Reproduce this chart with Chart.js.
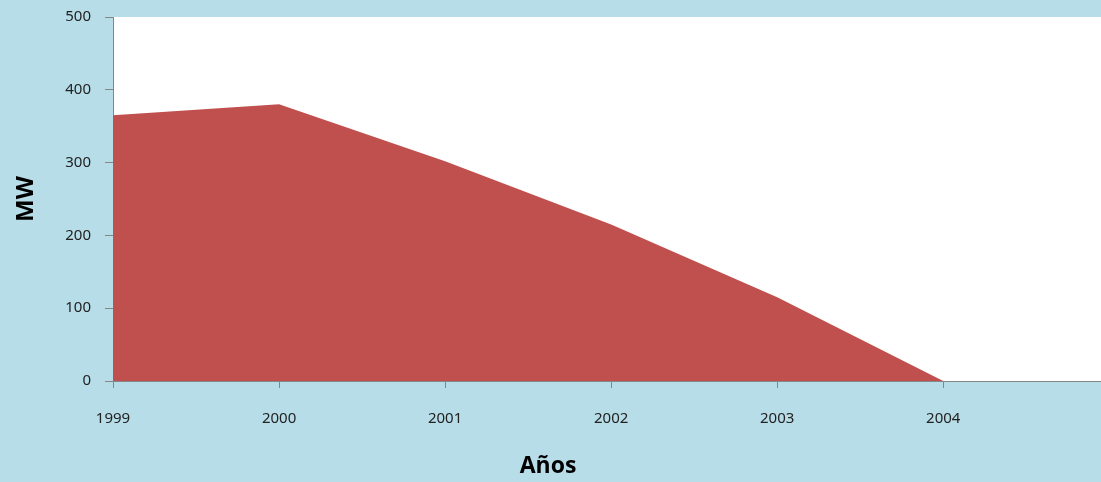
<!DOCTYPE html>
<html lang="es">
<head>
<meta charset="UTF-8" />
<title>MW por año</title>
<script src="https://cdn.jsdelivr.net/npm/chart.js"></script>
<style>
  html, body { margin: 0; padding: 0; background: #b7dde8; overflow: hidden; }
  #wrap { position: relative; width: 1101px; height: 482px; }
</style>
</head>
<body>
<div id="wrap"><canvas id="myChart"></canvas></div>
<script>
// datos
var years = [1999, 2000, 2001, 2002, 2003, 2004, 2005];
var mw = [365, 380, 302, 215, 115, 0, 0];
var yTicks = [0, 100, 200, 300, 400, 500];
var xTitle = "Años";
var yTitle = "MW";

var axisColor = "#868686";
var labelFont = { family: "'Noto Sans', 'Open Sans', sans-serif", size: 15 };

// fondo blanco del área de trazado + título del eje X + línea del eje encima
var plotBg = {
  id: "plotBg",
  beforeDraw: function (chart) {
    var a = chart.chartArea, c = chart.ctx;
    c.save();
    c.fillStyle = "#ffffff";
    c.fillRect(a.left, a.top, a.right - a.left, a.bottom - a.top);
    c.restore();
  },
  afterDraw: function (chart) {
    var c = chart.ctx, a = chart.chartArea;
    c.save();
    c.strokeStyle = axisColor;
    c.lineWidth = 1;
    c.beginPath();
    c.moveTo(a.left, a.bottom + 0.5);
    c.lineTo(a.right, a.bottom + 0.5);
    c.stroke();
    c.fillStyle = "#000000";
    c.font = "bold 23px 'Open Sans', 'Noto Sans', sans-serif";
    c.textAlign = "center";
    c.textBaseline = "middle";
    c.fillText(xTitle, 548, 466);
    c.restore();
  }
};

var points = years.map(function (y, i) { return { x: y, y: mw[i] }; });

var ctx = document.getElementById("myChart").getContext("2d");
new Chart(ctx, {
  type: "line",
  data: {
    datasets: [{
      label: "MW",
      data: points,
      fill: "origin",
      backgroundColor: "#c0504d",
      borderColor: "#c0504d",
      borderWidth: 0,
      pointRadius: 0,
      tension: 0
    }]
  },
  options: {
    responsive: true,
    maintainAspectRatio: false,
    animation: false,
    layout: { padding: { top: 17, left: 0, right: 0, bottom: 0 } },
    plugins: { legend: { display: false }, tooltip: { enabled: false } },
    scales: {
      x: {
        type: "linear",
        min: 1999,
        max: 2004.95,
        afterBuildTicks: function (s) {
          s.ticks = years.filter(function (y) { return y <= s.max; }).map(function (y) { return { value: y }; });
        },
        afterFit: function (s) { s.height = 101; s.paddingLeft = 0; s.paddingRight = 0; },
        grid: { drawOnChartArea: false, drawTicks: true, tickLength: 7, color: axisColor },
        border: { display: true, color: axisColor, width: 1 },
        ticks: {
          color: "#222",
          font: labelFont,
          padding: 22,
          maxRotation: 0,
          autoSkip: false,
          callback: function (v) { return String(v); }
        }
      },
      y: {
        min: 0,
        max: 500,
        afterBuildTicks: function (s) {
          s.ticks = yTicks.map(function (v) { return { value: v }; });
        },
        afterFit: function (s) { s.width = 113; s.paddingTop = 0; s.paddingBottom = 0; },
        grid: { drawOnChartArea: false, drawTicks: true, tickLength: 8, color: axisColor },
        border: { display: true, color: axisColor, width: 1 },
        ticks: { color: "#222", font: labelFont, padding: 14 },
        title: {
          display: true,
          text: yTitle,
          color: "#000",
          font: { family: "'Open Sans', 'Noto Sans', sans-serif", size: 24, weight: "bold" },
          padding: { top: 12, bottom: 0 }
        }
      }
    }
  },
  plugins: [plotBg]
});
</script>
</body>
</html>
